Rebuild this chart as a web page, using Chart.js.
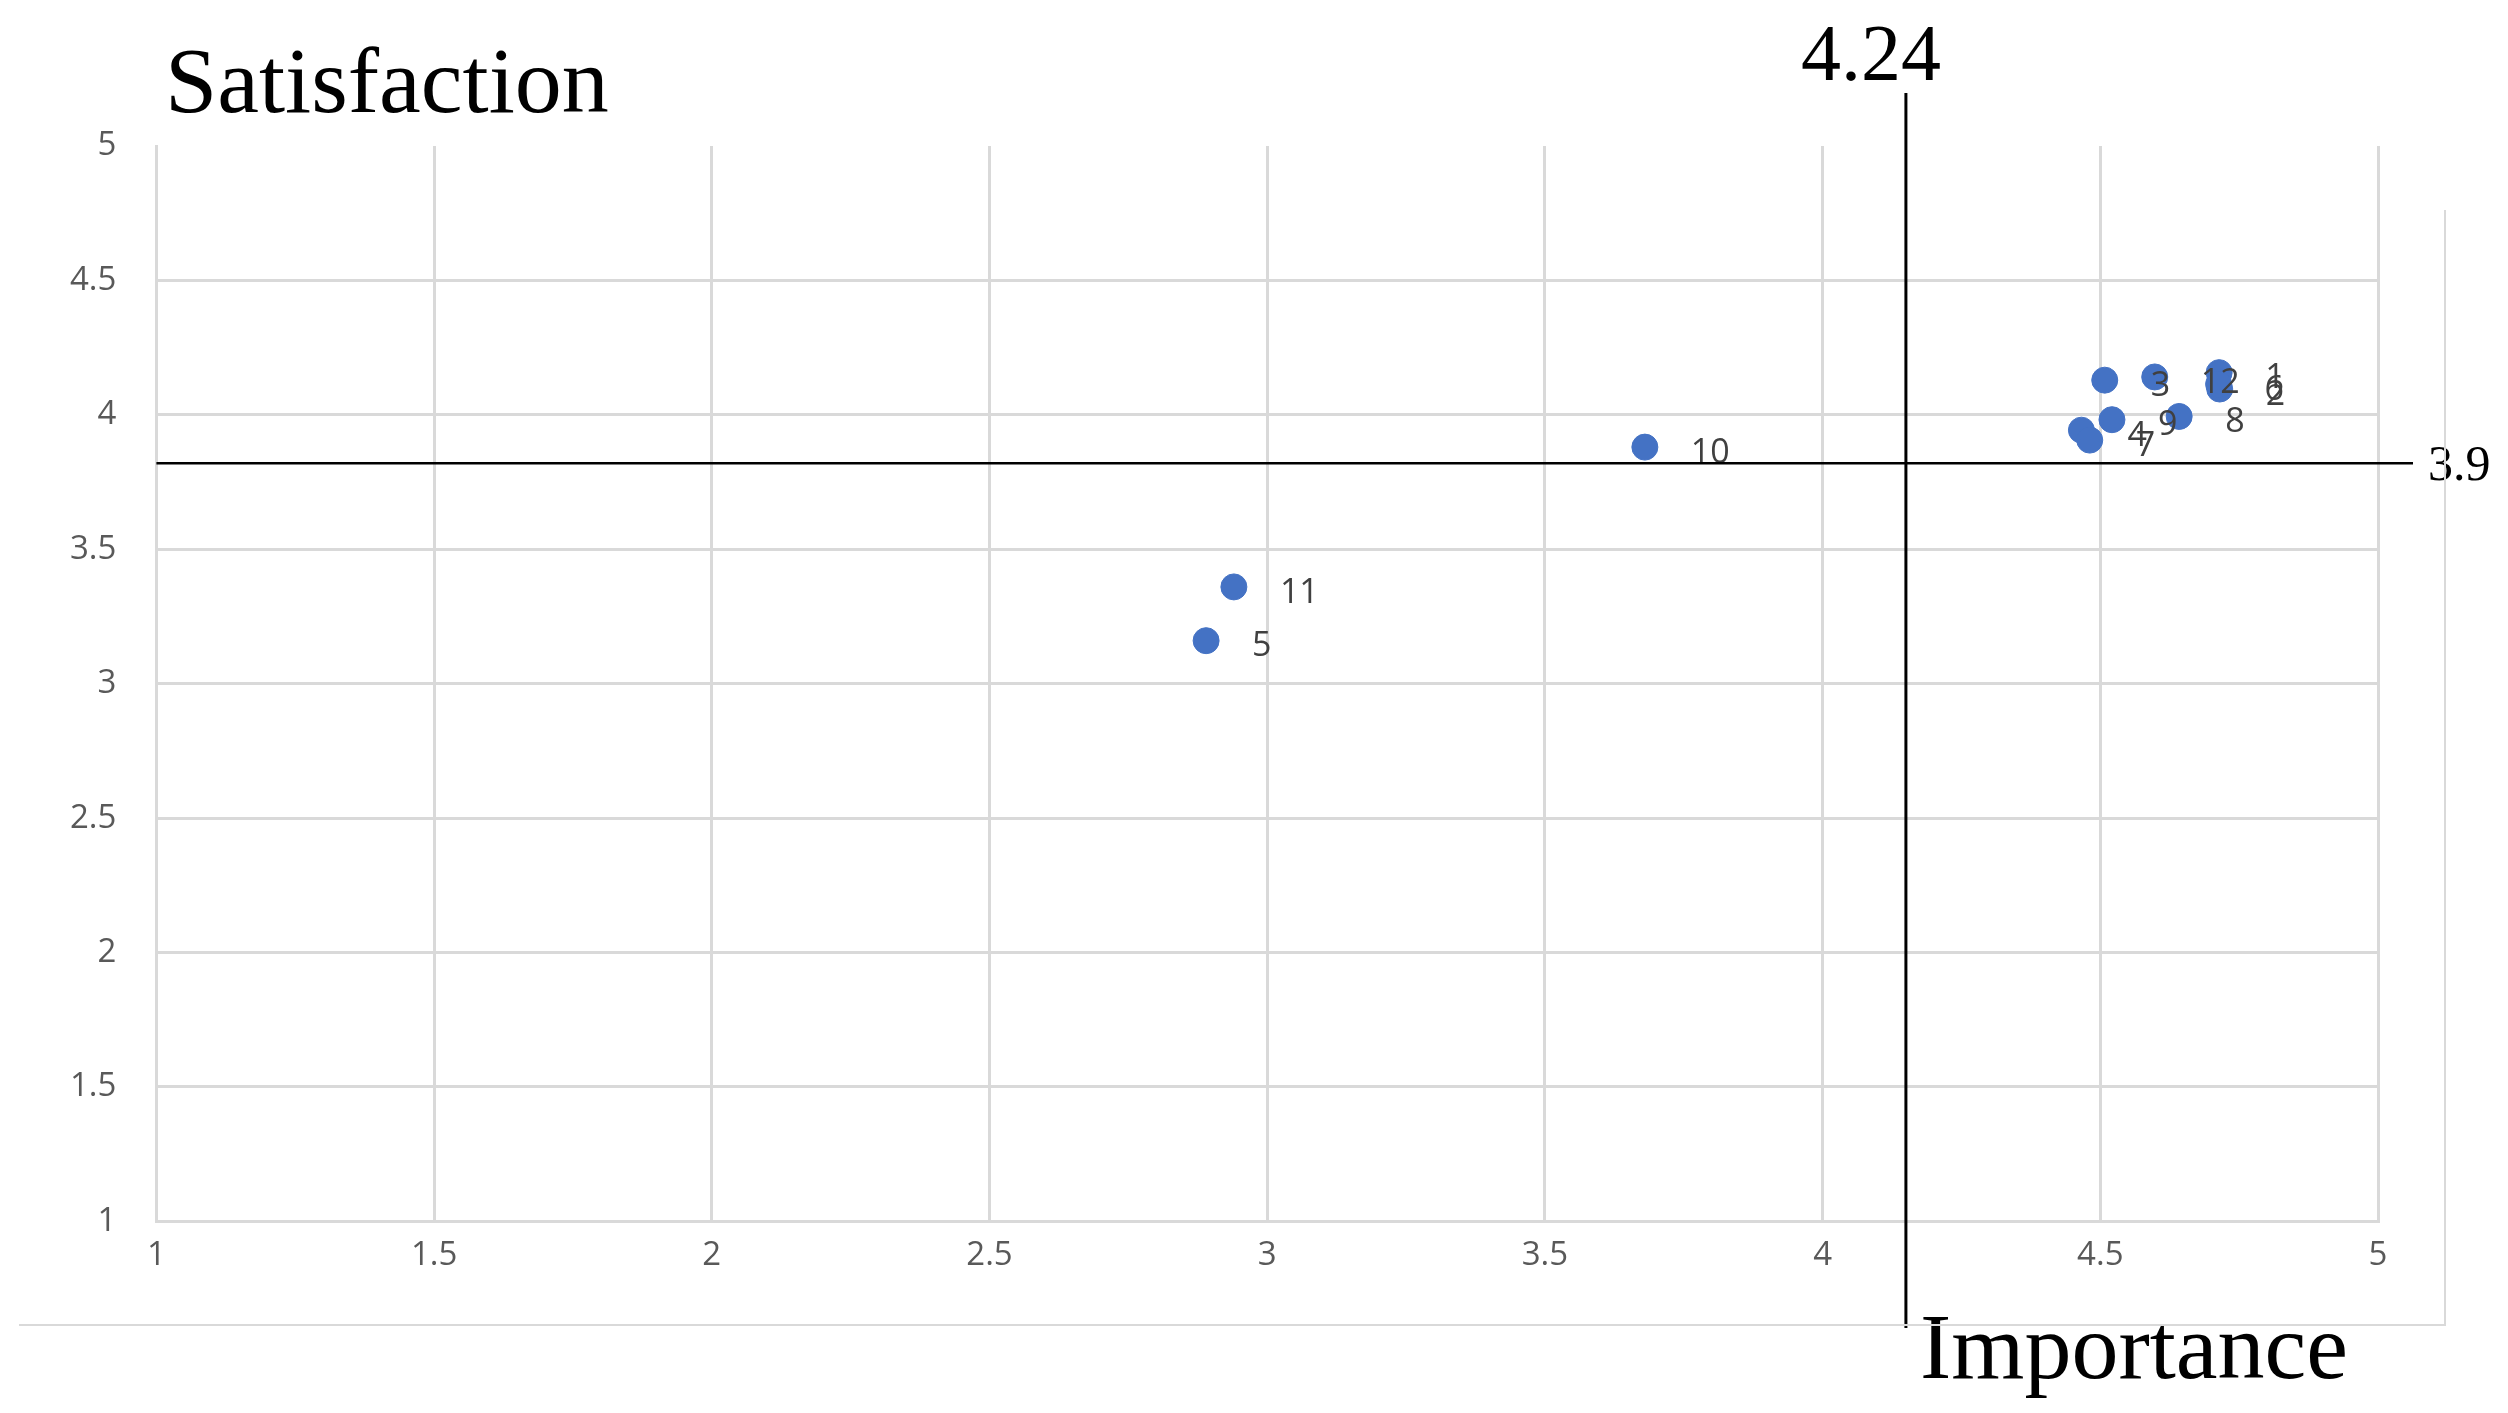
<!DOCTYPE html>
<html><head><meta charset="utf-8">
<script src="https://cdn.jsdelivr.net/npm/chart.js@4"></script>
<style>html,body{margin:0;padding:0;background:#fff}#w{width:2508px;height:1413px;position:relative}</style>
</head><body><div id="w"><canvas id="c"></canvas></div>
<script>
const pointLabels = ["1","2","3","4","5","6","7","8","9","10","11","12"];
const importance  = [4.714,4.715,4.508,4.466,2.89,4.713,4.481,4.642,4.521,3.68,2.94,4.598];
const satisfaction= [4.157,4.096,4.129,3.943,3.16,4.114,3.906,3.994,3.982,3.88,3.36,4.141];
const importanceLine = 4.15, importanceLabel = "4.24";
const satisfactionLine = 3.82, satisfactionLabel = "3.9";

const overlay = {
  id:'overlay',
  afterDatasetsDraw(chart){
    const {ctx, scales:{x,y}} = chart;
    const meta = chart.getDatasetMeta(0);
    ctx.save();
    ctx.fillStyle='#404040'; ctx.font='34px "Open Sans", sans-serif';
    ctx.textBaseline='middle'; ctx.textAlign='left';
    meta.data.forEach((p,i)=>ctx.fillText(pointLabels[i], p.x+46, p.y+6));
    ctx.strokeStyle='#000'; ctx.lineWidth=3;
    const vx = x.getPixelForValue(importanceLine);
    ctx.beginPath(); ctx.moveTo(vx, 93); ctx.lineTo(vx, 1328); ctx.stroke();
    const hy = y.getPixelForValue(satisfactionLine);
    ctx.lineWidth=2.5;
    ctx.beginPath(); ctx.moveTo(x.left, hy); ctx.lineTo(2413, hy); ctx.stroke();
    ctx.fillStyle='#000'; ctx.font='80px "Liberation Serif", serif';
    ctx.textAlign='center'; ctx.textBaseline='alphabetic';
    ctx.fillText(importanceLabel, vx-35, 80);
    ctx.font='50px "Liberation Serif", serif'; ctx.textAlign='left'; ctx.textBaseline='middle';
    ctx.fillText(satisfactionLabel, 2428, hy+4);
    ctx.font='94px "Liberation Serif", serif'; ctx.textBaseline='alphabetic';
    ctx.fillText("Satisfaction", 165, 112);
    ctx.fillText("Importance", 1920, 1378);
    ctx.strokeStyle='#d9d9d9'; ctx.lineWidth=2;
    ctx.beginPath(); ctx.moveTo(19,1325); ctx.lineTo(2445,1325); ctx.lineTo(2445,210); ctx.stroke();
    ctx.restore();
  }
};

const fmt = v => String(+v.toFixed(1));
new Chart(document.getElementById('c'), {
  type:'scatter',
  data:{datasets:[{data:importance.map((v,i)=>({x:v,y:satisfaction[i]})),
    backgroundColor:'#4472C4', borderColor:'#4472C4', pointRadius:13, pointHoverRadius:13}]},
  options:{
    responsive:true, maintainAspectRatio:false, animation:false,
    devicePixelRatio:1,
    layout:{padding:{top:146,right:130,bottom:124,left:30}},
    plugins:{legend:{display:false},tooltip:{enabled:false}},
    scales:{
      x:{type:'linear',min:1,max:5,ticks:{stepSize:0.5,callback:fmt,color:'#595959',font:{size:33,family:'"Open Sans", sans-serif'},padding:14},
         grid:{color:'#d9d9d9',lineWidth:3,drawTicks:false},border:{color:'#d9d9d9',width:3}},
      y:{type:'linear',min:1,max:5,ticks:{stepSize:0.5,callback:fmt,color:'#595959',font:{size:33,family:'"Open Sans", sans-serif'},padding:40},
         grid:{color:c=>c.tick&&c.tick.value===5?'rgba(0,0,0,0)':'#d9d9d9',lineWidth:3,drawTicks:false},border:{color:'#d9d9d9',width:3}}
    }
  },
  plugins:[overlay]
});
</script></body></html>
